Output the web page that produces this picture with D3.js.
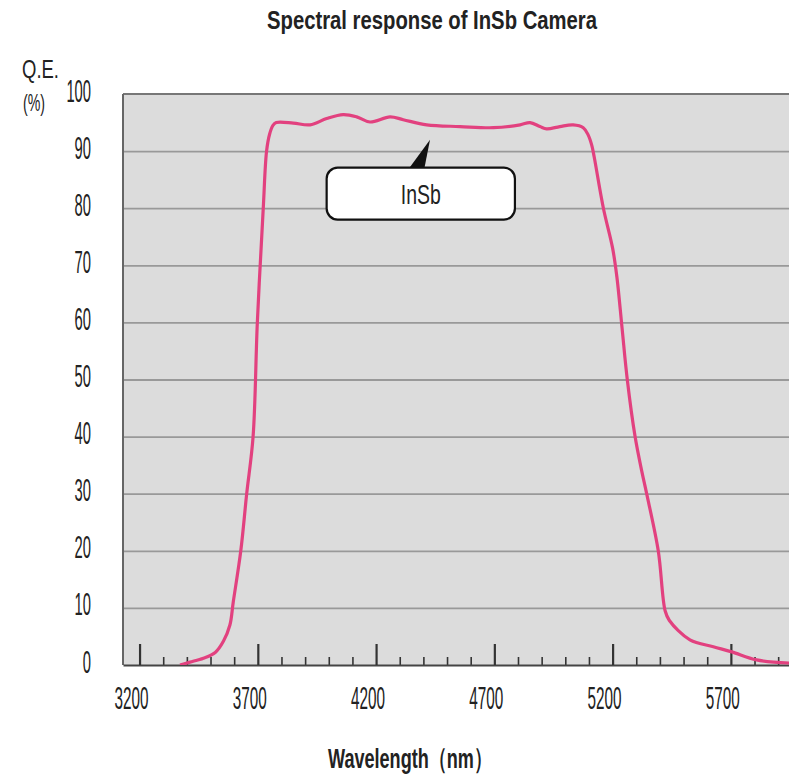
<!DOCTYPE html>
<html>
<head>
<meta charset="utf-8">
<script src="https://d3js.org/d3.v7.min.js"></script>
<style>
    body { margin: 0; background: #fff; }
    svg { display: block; }
    text { font-family: "Liberation Sans", Arial, sans-serif; fill: #222; }
</style>
</head>
<body>
<svg id="chart" width="789" height="774"></svg>
<script>
    // data
    var wavelength = [3371, 3413, 3470, 3520, 3555, 3582, 3596, 3628, 3653, 3680, 3698, 3723, 3737, 3750, 3764, 3778,
        3850, 3921, 3991, 4061, 4118, 4174, 4259, 4315, 4414, 4555, 4696, 4809, 4851, 4893, 4921, 4977, 5033, 5076, 5097, 5112,
        5122, 5161, 5200, 5218, 5240, 5262, 5295, 5323, 5344, 5393, 5422, 5440, 5527, 5626, 5704, 5809, 5946];
    var qe = [0, 0.5, 1.2, 2.2, 4.2, 7, 11, 20, 30, 40, 60, 80, 90, 93, 94.5, 95,
        94.9, 94.6, 95.7, 96.4, 96.0, 95.1, 96.0, 95.5, 94.6, 94.3, 94.1, 94.6, 95.0, 94.3, 93.9, 94.3, 94.6, 94.1, 92.8, 91.0,
        89, 80, 73, 68, 59, 50, 40, 34, 30, 20, 9.5, 7.8, 4.4, 3.2, 2.3, 0.9, 0.35];
    var yTicks = [0, 10, 20, 30, 40, 50, 60, 70, 80, 90, 100];
    var xMajor = [3200, 3700, 4200, 4700, 5200, 5700];
    var xMinor = d3.range(3300, 6000, 100).filter(d => xMajor.indexOf(d) < 0);
    var seriesName = "InSb";

    var svg = d3.select("#chart");
    var plotL = 123, plotT = 94, plotR = 790, plotB = 665;

    var x = d3.scaleLinear().domain([3130, 5950]).range([plotL, plotR]);
    var y = d3.scaleLinear().domain([0, 100]).range([plotB, plotT]);

    // plot background
    svg.append("rect")
        .attr("x", plotL).attr("y", plotT)
        .attr("width", plotR - plotL).attr("height", plotB - plotT)
        .attr("fill", "#dcdcdc");

    svg.append("clipPath").attr("id", "clip")
        .append("rect")
        .attr("x", plotL).attr("y", plotT - 5)
        .attr("width", plotR - plotL).attr("height", plotB - plotT + 5);

    // grid lines
    svg.append("g")
        .attr("transform", `translate(${plotL},0)`)
        .call(d3.axisLeft(y).tickValues(yTicks.slice(1, -1)).tickSize(-(plotR - plotL)).tickFormat(""))
        .call(g => g.select(".domain").remove())
        .call(g => g.selectAll("line").attr("stroke", "#999").attr("stroke-width", 1.8));

    // borders
    svg.append("line").attr("x1", plotL).attr("x2", plotR).attr("y1", plotT).attr("y2", plotT)
        .attr("stroke", "#777").attr("stroke-width", 2);
    svg.append("line").attr("x1", plotL).attr("x2", plotL).attr("y1", plotT).attr("y2", plotB)
        .attr("stroke", "#666").attr("stroke-width", 2);

    // minor ticks
    svg.append("g")
        .attr("transform", `translate(0,${plotB})`)
        .call(d3.axisBottom(x).tickValues(xMinor).tickSize(-8).tickFormat(""))
        .call(g => g.select(".domain").remove())
        .call(g => g.selectAll("line").attr("stroke", "#333").attr("stroke-width", 1.6));

    // major ticks + labels
    svg.append("g")
        .attr("transform", `translate(0,${plotB})`)
        .call(d3.axisBottom(x).tickValues(xMajor).tickSize(-21).tickSizeOuter(0).tickPadding(24).tickFormat(d3.format("d")))
        .call(g => g.select(".domain").attr("stroke", "#444").attr("stroke-width", 2))
        .call(g => g.selectAll("line").attr("stroke", "#333").attr("stroke-width", 2.2))
        .call(g => g.selectAll("text")
            .attr("font-size", 32).attr("fill", "#222")
            .attr("dx", -8.5).attr("dy", "0.62em")
            .attr("textLength", 34).attr("lengthAdjust", "spacingAndGlyphs"));

    // y labels
    svg.append("g")
        .attr("transform", `translate(${plotL},0)`)
        .call(d3.axisLeft(y).tickValues(yTicks).tickSize(0).tickPadding(32))
        .call(g => g.select(".domain").remove())
        .call(g => g.selectAll("text")
            .attr("font-size", 32).attr("fill", "#222")
            .attr("dy", "0.22em")
            .attr("textLength", d => String(d).length * 8.2).attr("lengthAdjust", "spacingAndGlyphs"));

    // curve
    var pts = wavelength.map((w, i) => [w, qe[i]]);
    var line = d3.line().x(d => x(d[0])).y(d => y(d[1])).curve(d3.curveCatmullRom.alpha(0.5));
    svg.append("path")
        .datum(pts)
        .attr("clip-path", "url(#clip)")
        .attr("d", line)
        .attr("fill", "none")
        .attr("stroke", "#e2417f")
        .attr("stroke-width", 3.2)
        .attr("stroke-linejoin", "round");

    // callout
    var note = { x0: 3991, x1: 4787, y0: 87.1, y1: 78.0, baseA: 4335, baseB: 4403, tipX: 4428, tipY: 92.0 };
    svg.append("path")
        .attr("d", `M${x(note.baseA)},${y(note.y0) + 2} L${x(note.tipX)},${y(note.tipY)} L${x(note.baseB)},${y(note.y0) + 2} Z`)
        .attr("fill", "#111");
    svg.append("rect")
        .attr("x", x(note.x0)).attr("y", y(note.y0))
        .attr("width", x(note.x1) - x(note.x0)).attr("height", y(note.y1) - y(note.y0))
        .attr("rx", 11).attr("ry", 11)
        .attr("fill", "#fff").attr("stroke", "#111").attr("stroke-width", 2.2);
    svg.append("text")
        .attr("x", x((note.x0 + note.x1) / 2)).attr("y", (y(note.y0) + y(note.y1)) / 2 + 10)
        .attr("text-anchor", "middle")
        .attr("font-size", 28).attr("fill", "#333")
        .attr("textLength", 40).attr("lengthAdjust", "spacingAndGlyphs")
        .text(seriesName);

    // titles
    svg.append("text")
        .attr("x", 432).attr("y", 29)
        .attr("text-anchor", "middle")
        .attr("font-size", 25).attr("font-weight", "bold")
        .attr("textLength", 330).attr("lengthAdjust", "spacingAndGlyphs")
        .text("Spectral response of InSb Camera");

    svg.append("text")
        .attr("x", 22).attr("y", 78)
        .attr("font-size", 26)
        .attr("textLength", 37).attr("lengthAdjust", "spacingAndGlyphs")
        .text("Q.E.");
    svg.append("text")
        .attr("x", 23).attr("y", 111)
        .attr("font-size", 24)
        .attr("textLength", 22).attr("lengthAdjust", "spacingAndGlyphs")
        .text("(%)");

    svg.append("text")
        .attr("x", 328).attr("y", 768)
        .attr("font-size", 28).attr("font-weight", "bold")
        .attr("textLength", 164).attr("lengthAdjust", "spacingAndGlyphs")
        .text("Wavelength（nm）");
</script>
</body>
</html>
